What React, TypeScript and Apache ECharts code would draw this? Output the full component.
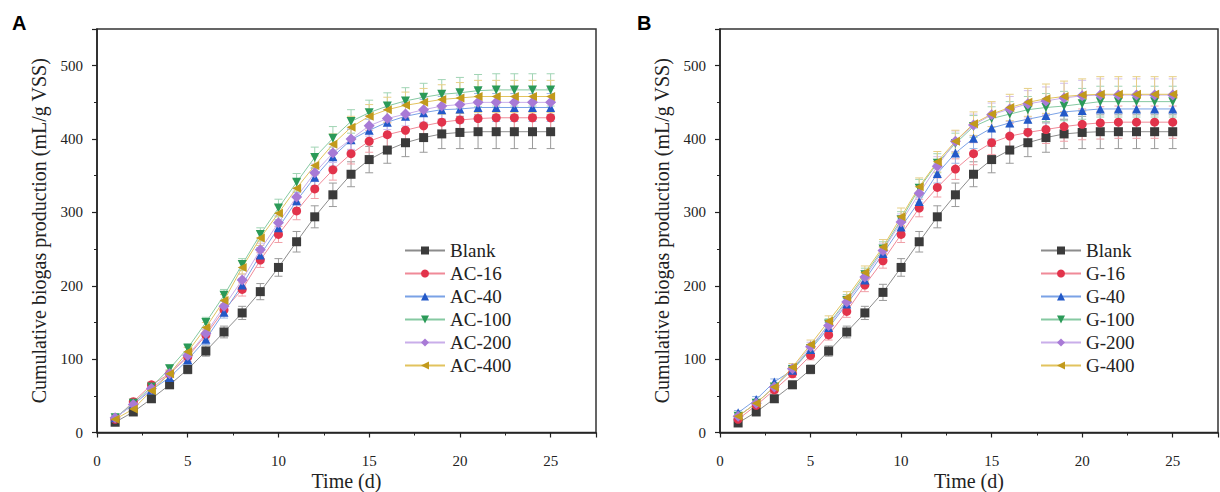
import React, { useEffect, useRef } from "react";
import * as echarts from "echarts";

const days = [1, 2, 3, 4, 5, 6, 7, 8, 9, 10, 11, 12, 13, 14, 15, 16, 17, 18, 19, 20, 21, 22, 23, 24, 25];

// Panel A
const blankA = [14, 28, 46, 65, 86, 111, 137, 163, 192, 225, 260, 294, 324, 352, 372, 385, 395, 402, 407, 409, 410, 410, 410, 410, 410];
const ac16 = [18, 42, 65, 80, 103, 133, 167, 195, 235, 270, 302, 332, 358, 380, 397, 406, 412, 418, 423, 426, 428, 429, 429, 429, 429];
const ac40 = [20, 38, 58, 75, 99, 127, 164, 201, 242, 279, 316, 348, 376, 399, 412, 423, 431, 436, 440, 441, 443, 443, 443, 443, 443];
const ac100 = [20, 40, 62, 87, 115, 150, 187, 229, 270, 306, 341, 375, 401, 424, 436, 445, 452, 457, 461, 463, 466, 467, 467, 467, 467];
const ac200 = [20, 38, 60, 80, 105, 135, 172, 208, 249, 286, 321, 354, 381, 400, 418, 428, 434, 440, 445, 447, 450, 450, 450, 450, 450];
const ac400 = [18, 32, 57, 80, 110, 143, 180, 225, 265, 299, 333, 364, 393, 416, 431, 440, 446, 450, 454, 456, 458, 458, 458, 458, 458];

// Panel B
const blankB = [13, 28, 46, 65, 86, 111, 137, 163, 191, 225, 260, 294, 324, 352, 372, 385, 395, 402, 407, 409, 410, 410, 410, 410, 410];
const g16 = [18, 37, 58, 80, 105, 133, 165, 201, 234, 270, 306, 334, 359, 380, 395, 404, 409, 413, 417, 420, 422, 423, 423, 423, 423];
const g40 = [27, 45, 69, 85, 113, 143, 175, 208, 244, 280, 315, 353, 381, 401, 415, 422, 427, 432, 437, 439, 441, 441, 441, 441, 441];
const g100 = [22, 40, 62, 86, 114, 148, 180, 215, 250, 290, 333, 367, 394, 417, 428, 434, 440, 443, 445, 448, 451, 451, 451, 451, 451];
const g200 = [22, 40, 62, 87, 117, 146, 178, 212, 248, 287, 326, 363, 397, 419, 433, 441, 448, 452, 456, 459, 460, 460, 460, 460, 460];
const g400 = [22, 40, 62, 89, 120, 152, 184, 218, 253, 294, 335, 369, 397, 421, 434, 443, 450, 455, 458, 460, 461, 461, 461, 461, 461];

// Error bars (±)
const errBlank = [3, 4, 5, 5, 6, 7, 8, 9, 11, 12, 14, 15, 16, 17, 18, 18, 19, 20, 20, 22, 23, 23, 23, 23, 23];
const errAC16 = [3, 4, 4, 5, 6, 7, 8, 9, 10, 11, 12, 13, 14, 14, 15, 16, 17, 18, 19, 20, 20, 20, 20, 20, 20];
const errAC40 = [3, 3, 4, 5, 6, 7, 8, 9, 10, 11, 11, 12, 13, 14, 15, 16, 17, 18, 18, 19, 19, 19, 19, 19, 19];
const errAC100 = [3, 4, 4, 5, 6, 7, 8, 8, 9, 12, 12, 14, 16, 16, 17, 18, 18, 19, 20, 21, 22, 22, 22, 22, 22];
const errAC200 = [3, 3, 4, 5, 5, 6, 7, 8, 9, 10, 11, 12, 13, 14, 14, 15, 16, 17, 18, 19, 19, 19, 19, 19, 19];
const errAC400 = [3, 3, 4, 5, 6, 7, 8, 9, 10, 11, 12, 13, 14, 15, 16, 17, 18, 19, 20, 21, 22, 22, 22, 22, 22];
const errG16 = [3, 4, 4, 5, 6, 7, 8, 9, 10, 11, 12, 13, 14, 15, 16, 17, 18, 19, 20, 21, 22, 22, 22, 22, 22];
const errG40 = [3, 4, 4, 5, 6, 7, 8, 9, 10, 11, 12, 13, 14, 14, 15, 16, 17, 18, 19, 19, 20, 20, 20, 20, 20];
const errG100 = [3, 3, 4, 5, 6, 7, 8, 9, 10, 11, 12, 13, 14, 15, 16, 17, 18, 19, 20, 21, 21, 21, 21, 21, 21];
const errG200 = [3, 3, 4, 5, 6, 7, 8, 9, 10, 11, 12, 13, 14, 15, 16, 17, 18, 19, 20, 21, 22, 22, 22, 22, 22];
const errG400 = [3, 4, 4, 5, 6, 7, 8, 9, 10, 12, 12, 14, 15, 16, 17, 18, 19, 20, 21, 22, 24, 24, 24, 24, 24];

const legendA = ["Blank", "AC-16", "AC-40", "AC-100", "AC-200", "AC-400"];
const legendB = ["Blank", "G-16", "G-40", "G-100", "G-200", "G-400"];

const styles = [
  { symbol: "rect", rotate: 0, marker: "#3b3b3b", line: "#8c8c8c", err: "#9a9a9a" },
  { symbol: "circle", rotate: 0, marker: "#e2334b", line: "#f08a98", err: "#f0a0a8" },
  { symbol: "triangle", rotate: 0, marker: "#2359c8", line: "#7aa2e6", err: "#9ab6e6" },
  { symbol: "triangle", rotate: 180, marker: "#2b9a58", line: "#86c9a2", err: "#a0d4b4" },
  { symbol: "diamond", rotate: 0, marker: "#a87ad6", line: "#c9aeea", err: "#d2bfee" },
  { symbol: "triangle", rotate: 90, marker: "#c29a1c", line: "#e2c35e", err: "#e6cf86" },
];

const FONT = "'Times New Roman', 'Liberation Serif', 'DejaVu Serif', serif";

function buildPanel(idx: number, names: string[], values: number[][], errs: number[][]) {
  const series: any[] = [];
  values.forEach((vals, i) => {
    const st = styles[i];
    series.push({
      type: "custom",
      name: names[i] + "-err-" + idx,
      xAxisIndex: idx,
      yAxisIndex: idx,
      silent: true,
      z: 1,
      encode: { x: 0, y: 1 },
      data: days.map((d, k) => [d, vals[k], errs[i][k]]),
      renderItem: (params: any, api: any) => {
        const x = api.value(0);
        const y = api.value(1);
        const e = api.value(2);
        const top = api.coord([x, y + e]);
        const bot = api.coord([x, y - e]);
        const w = 4;
        const s = { stroke: st.err, lineWidth: 1 };
        return {
          type: "group",
          children: [
            { type: "line", shape: { x1: top[0], y1: top[1], x2: bot[0], y2: bot[1] }, style: s },
            { type: "line", shape: { x1: top[0] - w, y1: top[1], x2: top[0] + w, y2: top[1] }, style: s },
            { type: "line", shape: { x1: bot[0] - w, y1: bot[1], x2: bot[0] + w, y2: bot[1] }, style: s },
          ],
        };
      },
    });
    series.push({
      type: "line",
      name: names[i],
      xAxisIndex: idx,
      yAxisIndex: idx,
      z: 3,
      data: days.map((d, k) => [d, vals[k]]),
      symbol: st.symbol,
      symbolRotate: st.rotate,
      symbolSize: st.symbol === "diamond" ? 11 : 9,
      showAllSymbol: true,
      lineStyle: { color: st.line, width: 1 },
      itemStyle: { color: st.marker },
    });
  });
  return series;
}

function axisCommon() {
  return {
    axisLine: { show: true, lineStyle: { color: "#222", width: 1.5 } },
    axisTick: { show: true, inside: false, length: 5, lineStyle: { color: "#222", width: 1.2 } },
    minorTick: { show: true, splitNumber: 2, length: 3, lineStyle: { color: "#222", width: 1 } },
    splitLine: { show: false },
    minorSplitLine: { show: false },
  };
}

export default function App() {
  const ref = useRef<HTMLDivElement>(null);
  useEffect(() => {
    if (!ref.current) return;
    const chart = echarts.init(ref.current, null, { renderer: "svg" });
    const grids = [
      { left: 97, top: 29, width: 499, height: 403.5 },
      { left: 720, top: 29, width: 498, height: 403.5 },
    ];
    const xAxes = [0, 1].map((i) => ({
      type: "value",
      gridIndex: i,
      min: 0,
      max: 27.5,
      interval: 5,
      name: "Time (d)",
      nameLocation: "middle",
      nameGap: 38,
      nameMoveOverlap: false,
      nameTextStyle: { fontFamily: FONT, fontSize: 20, color: "#222" },
      axisLabel: {
        fontFamily: FONT,
        fontSize: 15,
        color: "#222",
        margin: 21,
        showMaxLabel: false,
        formatter: (v: number) => (v % 5 === 0 ? String(v) : ""),
      },
      ...axisCommon(),
    }));
    const yAxes = [0, 1].map((i) => ({
      type: "value",
      gridIndex: i,
      min: 0,
      max: 550,
      interval: 100,
      name: "Cumulative biogas production (mL/g VSS)",
      nameLocation: "middle",
      nameGap: 48,
      nameMoveOverlap: false,
      nameRotate: 90,
      nameTextStyle: { fontFamily: FONT, fontSize: 20, color: "#222" },
      axisLabel: {
        fontFamily: FONT,
        fontSize: 15,
        color: "#222",
        margin: 14,
        showMaxLabel: false,
        formatter: (v: number) => (v % 100 === 0 ? String(v) : ""),
      },
      ...axisCommon(),
    }));
    const legendCommon = {
      orient: "vertical",
      itemWidth: 40,
      itemHeight: 10,
      itemGap: 4,
      textStyle: { fontFamily: FONT, fontSize: 19, color: "#222" },
      inactiveColor: "#ccc",
    };
    const option: any = {
      animation: false,
      backgroundColor: "#fff",
      grid: grids.map((g) => ({
        ...g,
        show: true,
        borderColor: "#333",
        borderWidth: 1.5,
        backgroundColor: "transparent",
        containLabel: false,
        outerBoundsMode: "none",
      })),
      xAxis: xAxes,
      yAxis: yAxes,
      legend: [
        { ...legendCommon, left: 399, top: 236, data: legendA },
        { ...legendCommon, left: 1035, top: 236, data: legendB },
      ],
      graphic: [
        { type: "text", left: 12, top: 13, style: { text: "A", font: "bold 20px 'Liberation Sans', Arial, sans-serif", fill: "#000" } },
        { type: "text", left: 637, top: 13, style: { text: "B", font: "bold 20px 'Liberation Sans', Arial, sans-serif", fill: "#000" } },
      ],
      series: [
        ...buildPanel(0, legendA, [blankA, ac16, ac40, ac100, ac200, ac400], [errBlank, errAC16, errAC40, errAC100, errAC200, errAC400]),
        ...buildPanel(1, legendB, [blankB, g16, g40, g100, g200, g400], [errBlank, errG16, errG40, errG100, errG200, errG400]),
      ],
    };
    chart.setOption(option);
    return () => chart.dispose();
  }, []);
  return (
    <div
      ref={ref}
      style={{ position: "fixed", left: 0, top: 0, width: 1220, height: 492, background: "#fff" }}
    />
  );
}
